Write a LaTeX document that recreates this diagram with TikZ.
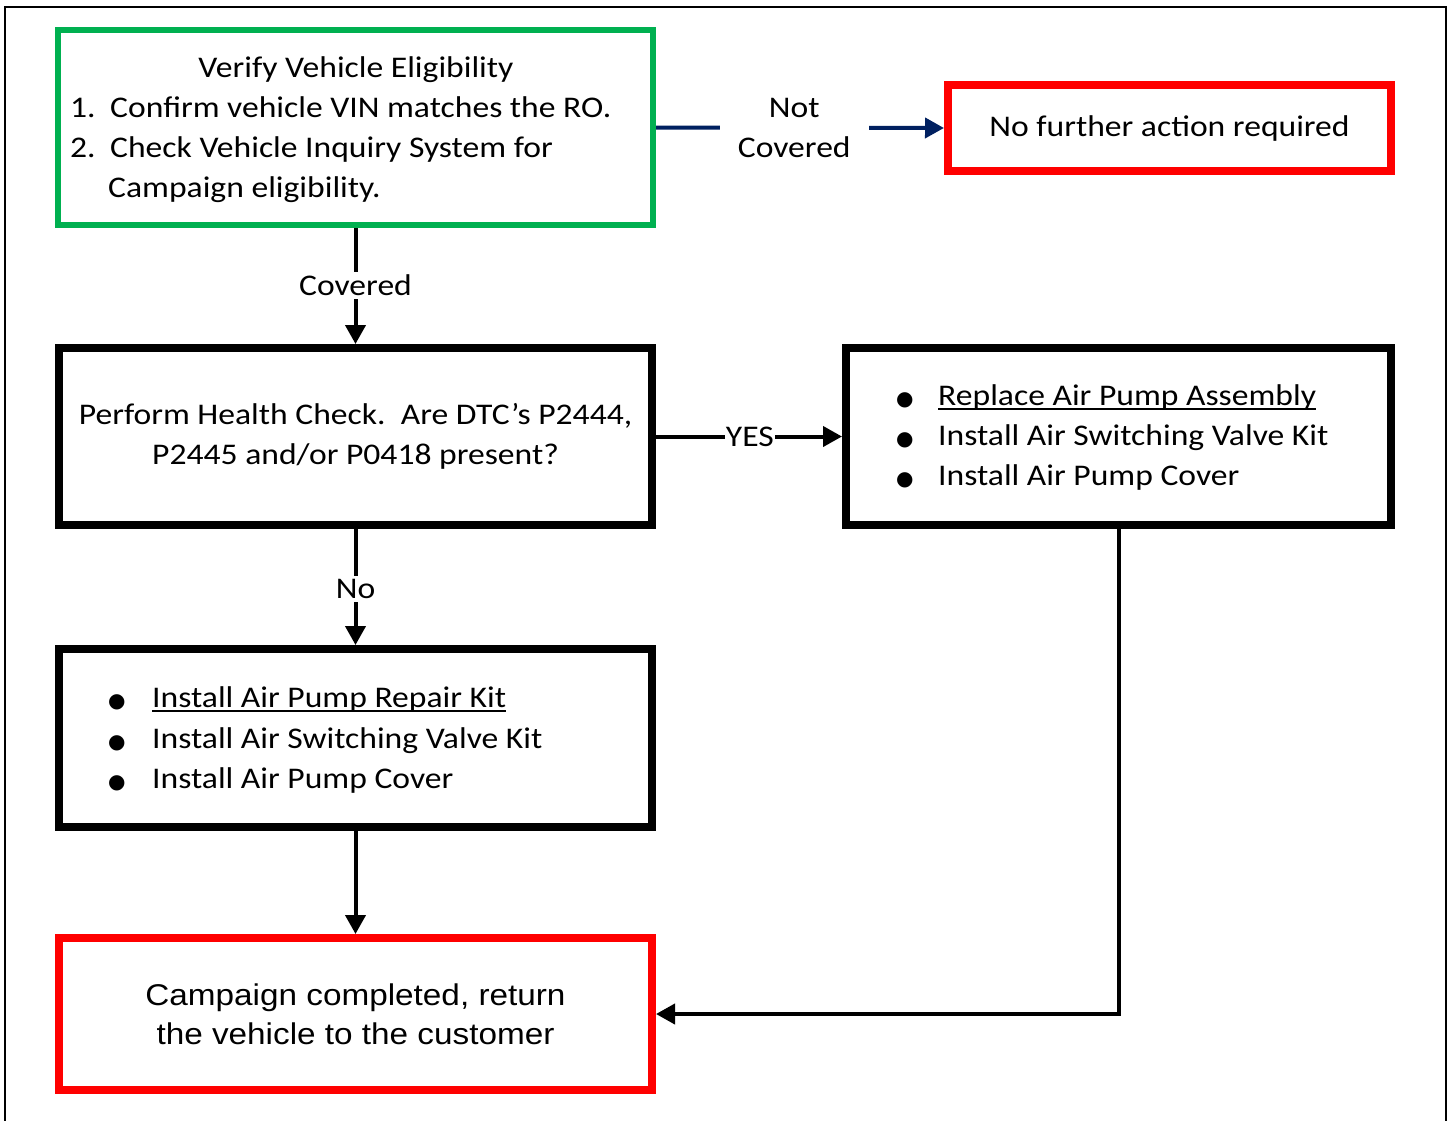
\documentclass[tikz,border=0pt]{standalone}
\usepackage{fontspec}
\setmainfont{Carlito}[FakeStretch=1.12]
\newfontfamily\arialf{Liberation Sans}[FakeStretch=1.11]
\newfontfamily\dvs{DejaVu Sans}
\usetikzlibrary{arrows.meta}
\definecolor{vgreen}{HTML}{00B050}
\definecolor{vred}{HTML}{FF0000}
\definecolor{vnavy}{HTML}{002060}
\newsavebox\ulbox
\newcommand\ulin[1]{\sbox\ulbox{#1}\rlap{\rule[-5pt]{\wd\ulbox}{2pt}}\usebox\ulbox}
\newcommand\bul[1]{\makebox[#1][l]{{\dvs\fontsize{20}{20}\selectfont ●}}}
\tikzset{
  box/.style={draw, line width=8pt, minimum width=593pt, minimum height=177pt, inner sep=0pt, fill=white},
  txt/.style={inner sep=0pt, font=\fontsize{30}{40}\selectfont},
  conn/.style={line width=4pt, -{Triangle[length=19pt,width=20pt]}},
  lab/.style={fill=white, text=black, inner sep=2pt, font=\fontsize{30}{40}\selectfont, align=center}
}
\begin{document}
\begin{tikzpicture}[x=1pt,y=-1pt]
\useasboundingbox (0,0) rectangle (1451,1120);
\fill[white] (0,0) rectangle (1451,1120);
\draw[line width=2pt] (5,1130) -- (5,7) -- (1446,7) -- (1446,1130);

% boxes
\node[box, draw=vgreen, line width=6pt, minimum width=595pt, minimum height=195pt] (verify) at (355.5,127.5) {};
\node[box, draw=vred, minimum width=443pt, minimum height=86pt, txt] (nofurther) at (1169.5,128) {No further action required};
\node[box, txt, align=center] (health) at (355.5,436.5) {Perform Health Check.\ \ Are DTC’s P2444,\\P2445 and/or P0418 present?};
\node[box, minimum width=545pt] (right) at (1118.5,436.5) {};
\node[box, minimum height=178pt] (repair) at (355.5,738) {};
\node[box, draw=vred, minimum height=152pt, align=center, font=\arialf\fontsize{30}{39}\selectfont] (final) at (355.5,1014) {Campaign completed, return\\the vehicle to the customer};

% green box text
\node[txt, anchor=base] (v0) at (356,77) {Verify Vehicle Eligibility};
\node[txt, anchor=base west] (v1) at (70,117) {\makebox[40pt][l]{1.}Confirm vehicle VIN matches the RO.};
\node[txt, anchor=base west] (v2) at (70,157) {\makebox[40pt][l]{2.}Check Vehicle Inquiry System for};
\node[txt, anchor=base west] (v3) at (108,197) {Campaign eligibility.};

% right box text
\node[txt, anchor=base west] (r1) at (896,405) {\bul{42pt}\ulin{Replace Air Pump Assembly}};
\node[txt, anchor=base west] (r2) at (896,445) {\bul{42pt}Install Air Switching Valve Kit};
\node[txt, anchor=base west] (r3) at (896,485) {\bul{42pt}Install Air Pump Cover};

% repair box text
\node[txt, anchor=base west] (p1) at (108,707) {\bul{44pt}\ulin{Install Air Pump Repair Kit}};
\node[txt, anchor=base west] (p2) at (108,748) {\bul{44pt}Install Air Switching Valve Kit};
\node[txt, anchor=base west] (p3) at (108,788) {\bul{44pt}Install Air Pump Cover};

% connectors
\draw[conn, vnavy] (verify.east) -- node[lab, pos=0.48, inner xsep=18pt]{Not\\Covered} (nofurther.west);
\draw[conn] (verify.south) -- node[lab, pos=0.496, inner ysep=3pt]{Covered} (health.north);
\draw[conn] (health.east) -- node[lab, pos=0.505, inner xsep=1pt]{YES} (right.west);
\draw[conn] (health.south) -- node[lab, pos=0.516, inner ysep=3pt]{No} (repair.north);
\draw[conn] (repair.south) -- (final.north);
\draw[conn] (right.south) |- (final.east);
\end{tikzpicture}
\end{document}
